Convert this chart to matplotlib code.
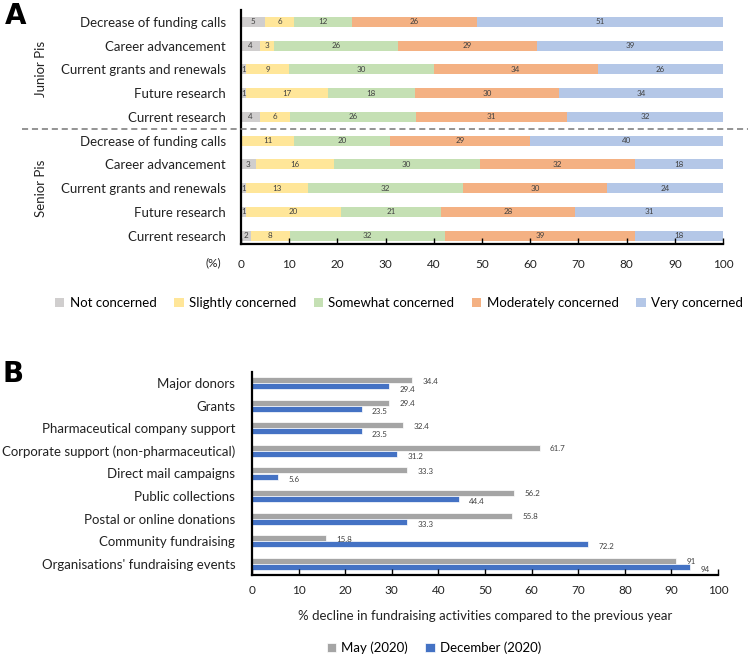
import numpy as np
import matplotlib
matplotlib.use("Agg")
import matplotlib.pyplot as plt
from matplotlib.lines import Line2D

plt.rcParams["font.family"] = ["Lato", "DejaVu Sans"]

# ---------------------------------------------------------------------------
# Panel A data: 100% stacked bars, top row first
# ---------------------------------------------------------------------------
topics = ["Decrease of funding calls", "Career advancement",
          "Current grants and renewals", "Future research", "Current research"]
levels = ["Not concerned", "Slightly concerned", "Somewhat concerned",
          "Moderately concerned", "Very concerned"]
junior = [
    [5, 6, 12, 26, 51],
    [4, 3, 26, 29, 39],
    [1, 9, 30, 34, 26],
    [1, 17, 18, 30, 34],
    [4, 6, 26, 31, 32],
]
senior = [
    [0, 11, 20, 29, 40],
    [3, 16, 30, 32, 18],
    [1, 13, 32, 30, 24],
    [1, 20, 21, 28, 31],
    [2, 8, 32, 39, 18],
]
level_colors = ["#D0CECE", "#FFE699", "#C5E0B4", "#F4B183", "#B4C7E7"]

# ---------------------------------------------------------------------------
# Panel B data
# ---------------------------------------------------------------------------
activities = ["Major donors", "Grants", "Pharmaceutical company support",
              "Corporate support (non-pharmaceutical)", "Direct mail campaigns",
              "Public collections", "Postal or online donations",
              "Community fundraising", "Organisations' fundraising events"]
may_2020 = [34.4, 29.4, 32.4, 61.7, 33.3, 56.2, 55.8, 15.8, 91]
dec_2020 = [29.4, 23.5, 23.5, 31.2, 5.6, 44.4, 33.3, 72.2, 94]
period_labels = ["May (2020)", "December (2020)"]
period_colors = ["#A5A5A5", "#4472C4"]

W, H = 748, 664
fig = plt.figure(figsize=(W / 100, H / 100), dpi=100)


def fx(px):
    return px / W


def fy(py):
    return 1 - py / H


# ---------------------------------------------------------------- panel A
axA = fig.add_axes([fx(241), fy(244), fx(723) - fx(241), fy(10) - fy(244)])
rows = np.array(junior + senior, dtype=float)
row_names = topics + topics
pct = rows / rows.sum(axis=1, keepdims=True) * 100   # Excel-style 100% stack
ypos = np.arange(len(rows))
left = np.zeros(len(rows))
for j, lev in enumerate(levels):
    axA.barh(ypos, pct[:, j], left=left, height=0.42, color=level_colors[j],
             label=lev, linewidth=0)
    for i in range(len(rows)):
        v = rows[i, j]
        if v > 0:
            axA.text(left[i] + pct[i, j] / 2, ypos[i], f"{int(v)}",
                     ha="center", va="center", fontsize=5.8, color="#404040")
    left += pct[:, j]

axA.set_xlim(0, 100)
axA.set_ylim(9.35, -0.5)
axA.set_yticks(ypos)
axA.set_yticklabels(row_names, fontsize=9.5, color="#222222")
axA.set_xticks(np.arange(0, 101, 10))
axA.tick_params(axis="x", direction="in", length=4, width=1, labelsize=8.5,
                pad=11, labelcolor="#222222")
axA.tick_params(axis="y", length=0, pad=11)
for s in ["top", "right"]:
    axA.spines[s].set_visible(False)
axA.spines["left"].set_linewidth(1.6)
axA.spines["bottom"].set_linewidth(1.6)
fig.text(fx(213), fy(263), "(%)", ha="center", va="center", fontsize=8.5,
         color="#222222")

fig.text(fx(41), fy(69), "Junior Pis", rotation=90, ha="center", va="center",
         fontsize=9.5, color="#222222")
fig.text(fx(41), fy(188), "Senior Pis", rotation=90, ha="center", va="center",
         fontsize=9.5, color="#222222")
fig.add_artist(Line2D([fx(22), 1.0], [fy(129), fy(129)], color="#777777",
                      linestyle=(0, (4, 2.5)), linewidth=1.1))

fig.legend(*axA.get_legend_handles_labels(), loc="center",
           bbox_to_anchor=(fx(399), fy(303)), ncol=5, frameon=False,
           fontsize=9.5, handlelength=0.7, handleheight=0.7,
           handletextpad=0.4, columnspacing=1.35)
fig.text(fx(16), fy(16), "A", ha="center", va="center", fontsize=20,
         fontweight="bold", family="DejaVu Sans")

# ---------------------------------------------------------------- panel B
axB = fig.add_axes([fx(252), fy(575), fx(718) - fx(252), fy(372) - fy(575)])
yb = np.arange(len(activities))
bh = 0.27
axB.barh(yb - bh / 2, may_2020, height=bh, color=period_colors[0],
         edgecolor="white", linewidth=0.5, label=period_labels[0])
axB.barh(yb + bh / 2, dec_2020, height=bh, color=period_colors[1],
         edgecolor="white", linewidth=0.5, label=period_labels[1])
for i in range(len(activities)):
    axB.text(may_2020[i] + 2.2, yb[i] - bh / 2 + 0.04, f"{may_2020[i]:g}",
             ha="left", va="center", fontsize=5.8, color="#404040")
    axB.text(dec_2020[i] + 2.2, yb[i] + bh / 2 + 0.12, f"{dec_2020[i]:g}",
             ha="left", va="center", fontsize=5.8, color="#404040")
axB.set_xlim(0, 100)
axB.set_ylim(len(activities) - 0.5, -0.5)
axB.set_yticks(yb)
axB.set_yticklabels(activities, fontsize=9.5, color="#222222")
axB.set_xticks(np.arange(0, 101, 10))
axB.tick_params(axis="x", direction="in", length=4, width=1, labelsize=8.5,
                pad=7, labelcolor="#222222")
axB.tick_params(axis="y", length=0, pad=12)
for s in ["top", "right"]:
    axB.spines[s].set_visible(False)
axB.spines["left"].set_linewidth(1.6)
axB.spines["bottom"].set_linewidth(1.6)
axB.set_xlabel("% decline in fundraising activities compared to the previous year",
               fontsize=9.5, color="#222222", labelpad=10)
fig.legend(*axB.get_legend_handles_labels(), loc="center",
           bbox_to_anchor=(fx(434), fy(648)), ncol=2, frameon=False,
           fontsize=9.5, handlelength=0.7, handleheight=0.7,
           handletextpad=0.4, columnspacing=1.3)
fig.text(fx(13), fy(374), "B", ha="center", va="center", fontsize=20,
         fontweight="bold", family="DejaVu Sans")

fig.savefig("out.png", dpi=100)
